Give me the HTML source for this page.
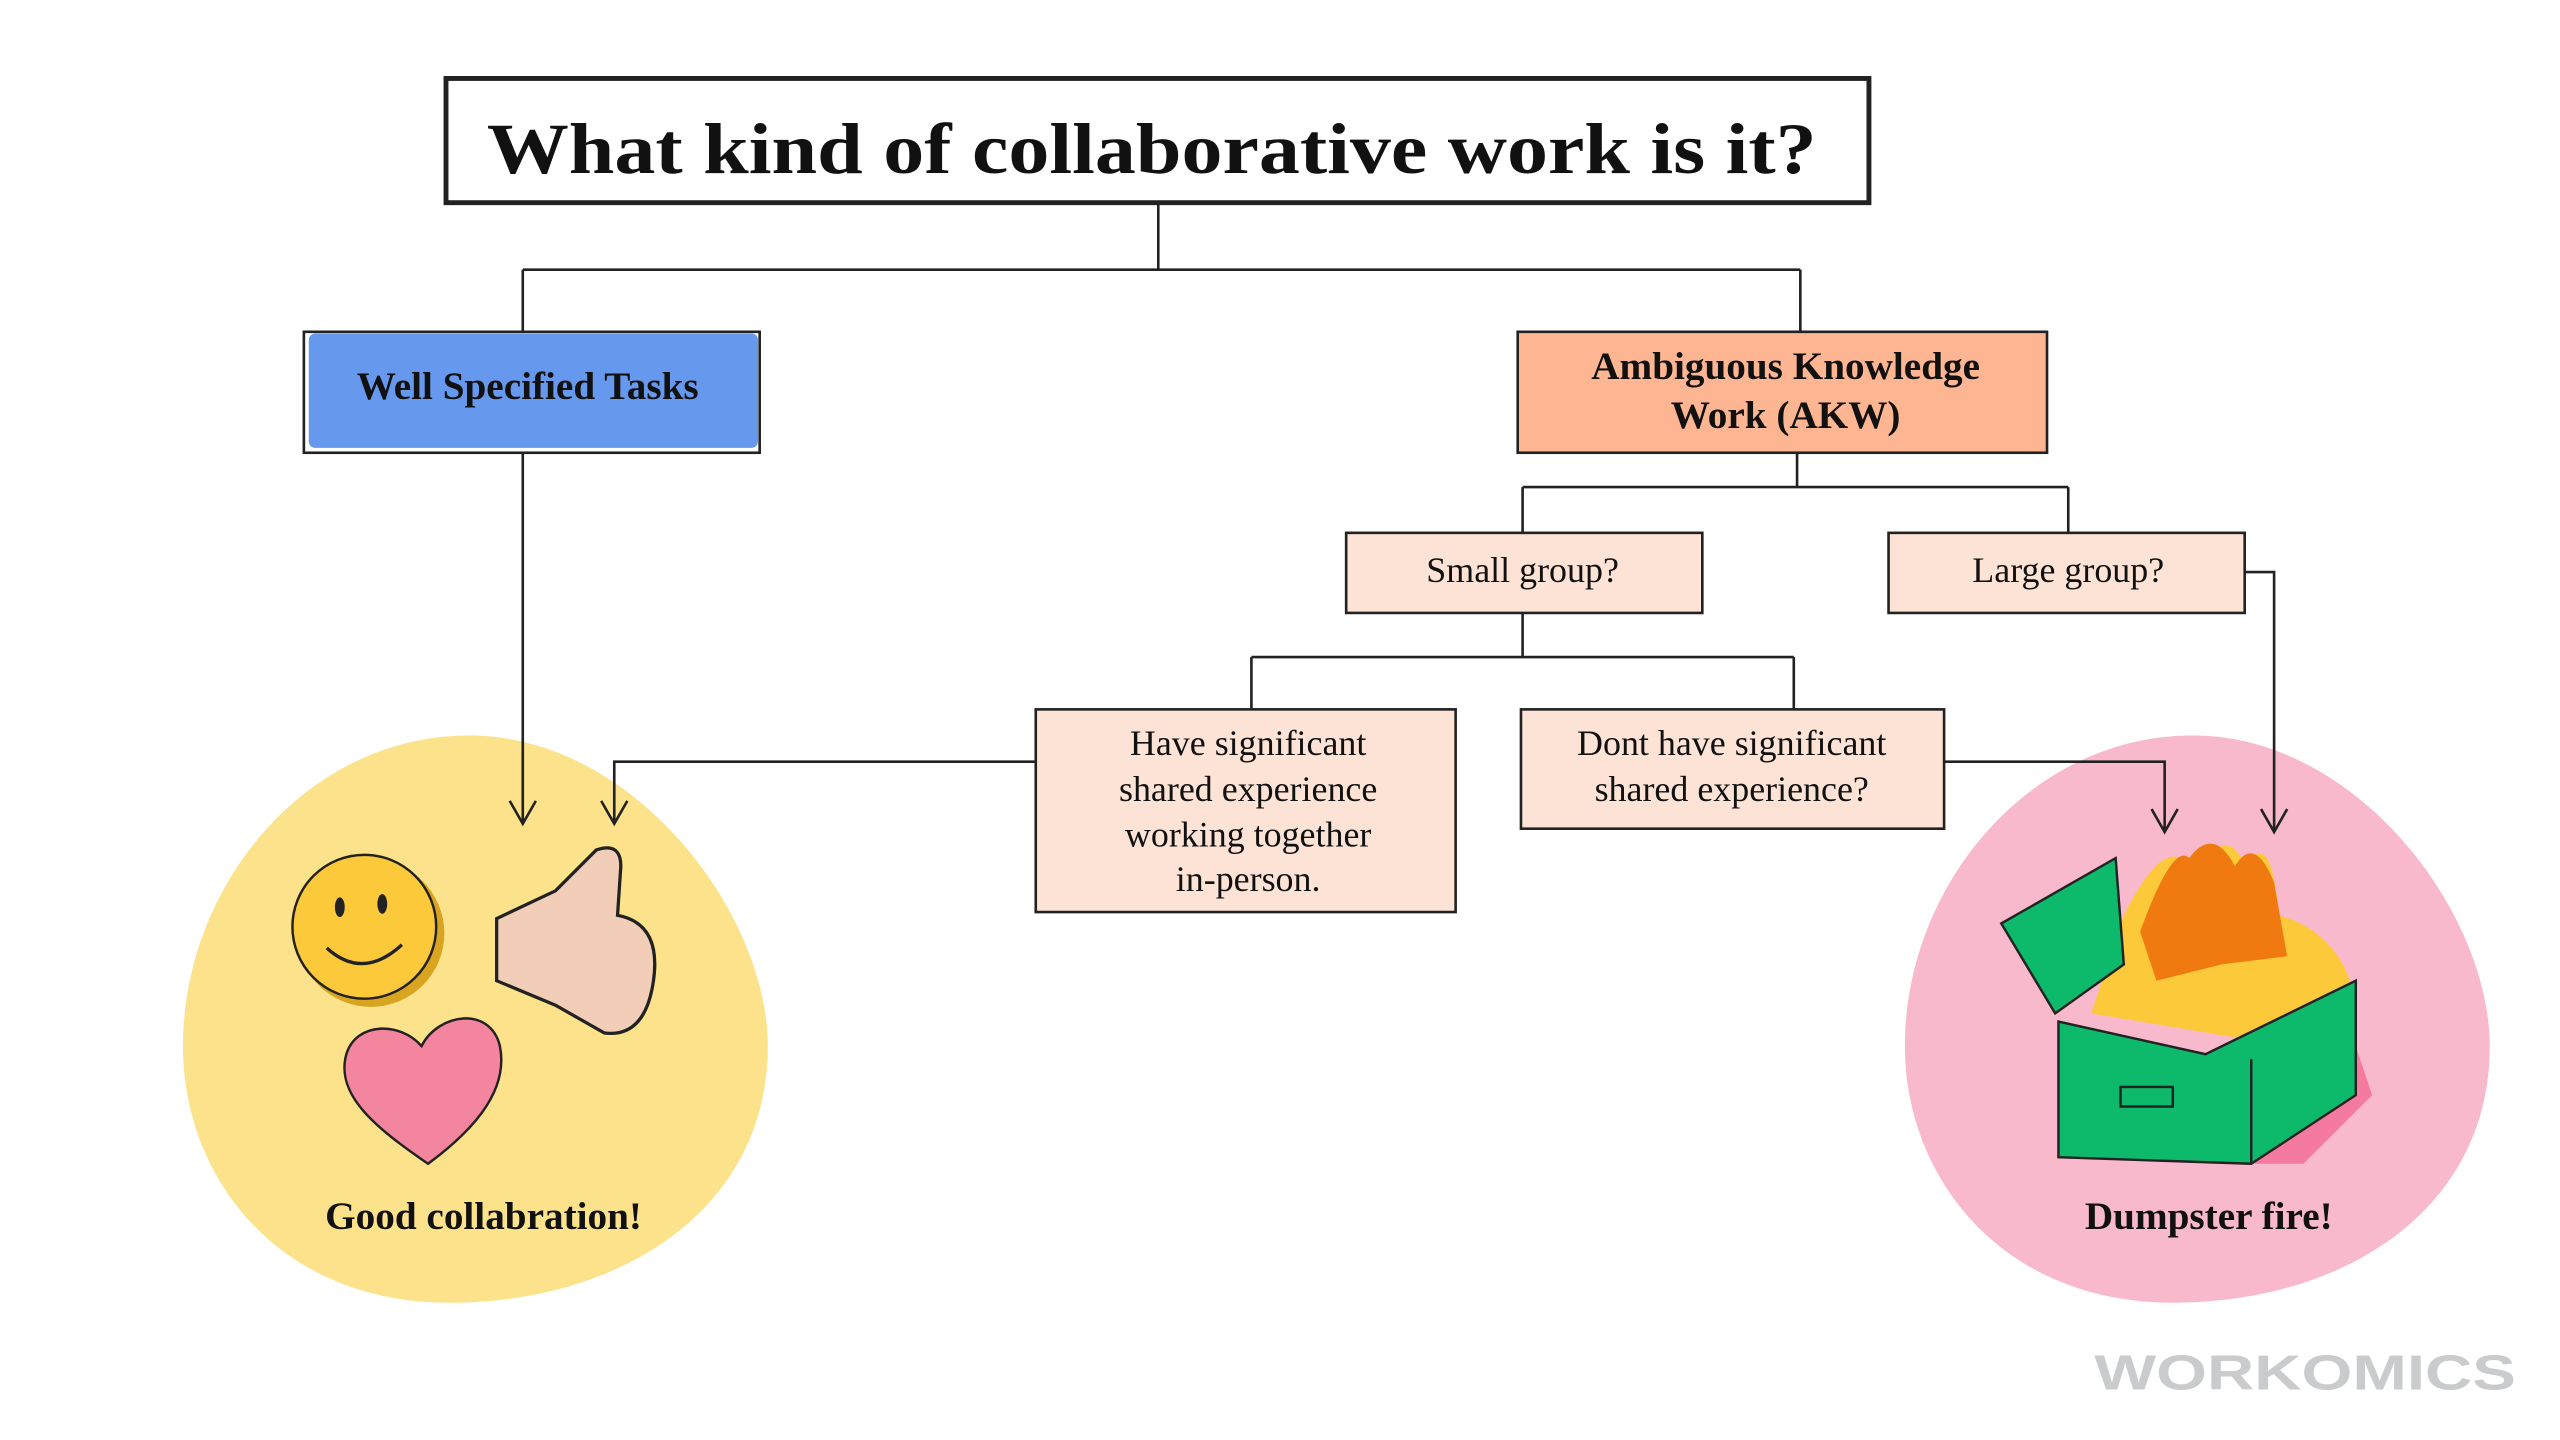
<!DOCTYPE html>
<html><head><meta charset="utf-8"><style>
html,body{margin:0;padding:0;background:#fff;}
svg{display:block;}
text{font-family:"Liberation Serif","DejaVu Serif",serif;fill:#111;}
</style></head><body>
<svg width="2560" height="1440" viewBox="0 0 1567 881" preserveAspectRatio="none" xmlns="http://www.w3.org/2000/svg">
<rect width="1567" height="881" fill="#fff"/>
<path d="M290,450 C390,452 470,560 470,640 C470,740 380,797 275,797 C170,797 112,720 112,640 C112,540 190,448 290,450 Z" fill="#fce28a"/>
<path d="M1345,450 C1445,452 1524,560 1524,640 C1524,740 1435,797 1330,797 C1225,797 1166,720 1166,640 C1166,540 1245,448 1345,450 Z" fill="#f9b9cc"/>

<g fill="none" stroke="#222" stroke-width="1.6">
<path d="M709,124 V165 M320,165 H1102 M320,165 V203 M1102,165 V203"/>
<path d="M320,277 V503 M312,490 L320,504 L328,490"/>
<path d="M1100,277 V298 M932,298 H1266 M932,298 V326 M1266,298 V326"/>
<path d="M932,375 V402 M766,402 H1098 M766,402 V434 M1098,402 V434"/>
<path d="M634,466 H376 V503 M368,490 L376,504 L384,490"/>
<path d="M1190,466 H1325 V508 M1317,495 L1325,509 L1333,495"/>
<path d="M1374,350 H1392 V508 M1384,495 L1392,509 L1400,495"/>
</g>

<rect x="273" y="48" width="871" height="76" fill="#fff" stroke="#222" stroke-width="3"/>
<text x="298" y="106" font-size="44" font-weight="bold" textLength="814" lengthAdjust="spacingAndGlyphs">What kind of collaborative work is it?</text>

<rect x="186" y="203" width="279" height="74" fill="#fff" stroke="#222" stroke-width="1.6"/>
<rect x="189" y="204" width="275" height="70" rx="4" fill="#6699ee"/>
<text x="323" y="244" font-size="24" font-weight="bold" text-anchor="middle">Well Specified Tasks</text>

<rect x="929" y="203" width="324" height="74" fill="#fdb592" stroke="#222" stroke-width="1.6"/>
<text x="1093" y="232" font-size="24" font-weight="bold" text-anchor="middle">Ambiguous Knowledge</text>
<text x="1093" y="262" font-size="24" font-weight="bold" text-anchor="middle">Work (AKW)</text>

<g fill="#fde3d6" stroke="#222" stroke-width="1.6">
<rect x="824" y="326" width="218" height="49"/>
<rect x="1156" y="326" width="218" height="49"/>
<rect x="634" y="434" width="257" height="124"/>
<rect x="931" y="434" width="259" height="73"/>
</g>
<g font-size="22" text-anchor="middle">
<text x="932" y="356">Small group?</text>
<text x="1266" y="356">Large group?</text>
<text x="764" y="462">Have significant</text>
<text x="764" y="490">shared experience</text>
<text x="764" y="518">working together</text>
<text x="764" y="545">in-person.</text>
<text x="1060" y="462">Dont have significant</text>
<text x="1060" y="490">shared experience?</text>
</g>

<circle cx="227" cy="571" r="45" fill="#d9a520"/>
<circle cx="223" cy="567" r="44" fill="#fcc93a" stroke="#222" stroke-width="1.5"/>
<ellipse cx="208" cy="555" rx="3" ry="6" fill="#222"/>
<ellipse cx="234" cy="553" rx="3" ry="6" fill="#222"/>
<path d="M200,580 Q222,600 246,578" fill="none" stroke="#222" stroke-width="2"/>
<path d="M304,562 L340,545 L365,520 Q380,515 380,530 L378,560 Q405,565 400,600 Q395,635 370,632 L340,615 L304,600 Z" fill="#f2cdb8" stroke="#222" stroke-width="2"/>
<path d="M262,712 C230,690 205,670 212,645 C218,625 245,625 258,640 C268,620 300,615 306,640 C312,670 285,695 262,712 Z" fill="#f3859f" stroke="#222" stroke-width="1.5"/>
<path d="M1270,712 L1410,712 L1452,670 L1442,640 L1380,712 Z" fill="#f47aa0"/>
<path d="M1300,560 Q1330,500 1345,540 Q1360,500 1375,530 Q1390,505 1395,560 Q1430,570 1440,605 L1400,640 L1280,620 Z" fill="#fcc93a"/>
<path d="M1310,570 Q1330,515 1340,525 Q1355,505 1368,530 Q1380,510 1392,540 L1400,585 L1360,590 L1320,600 Z" fill="#f07a10"/>
<path d="M1225,565 L1295,525 L1300,590 L1258,620 Z" fill="#0dba6c" stroke="#222" stroke-width="1.5"/>
<path d="M1260,625 L1350,645 L1442,600 L1442,670 L1378,712 L1260,708 Z" fill="#0dba6c" stroke="#222" stroke-width="1.5"/>
<path d="M1378,648 V712" stroke="#222" stroke-width="1.5"/>
<rect x="1298" y="665" width="32" height="12" fill="none" stroke="#222" stroke-width="1.5"/>

<text x="296" y="752" font-size="24" font-weight="bold" text-anchor="middle">Good collabration!</text>
<text x="1352" y="752" font-size="24" font-weight="bold" text-anchor="middle">Dumpster fire!</text>

<text x="1282" y="850" font-size="30" font-weight="bold" style="fill:#c9cbcc;font-family:'Liberation Sans',sans-serif" textLength="258" lengthAdjust="spacingAndGlyphs">WORKOMICS</text>
</svg>
</body></html>
